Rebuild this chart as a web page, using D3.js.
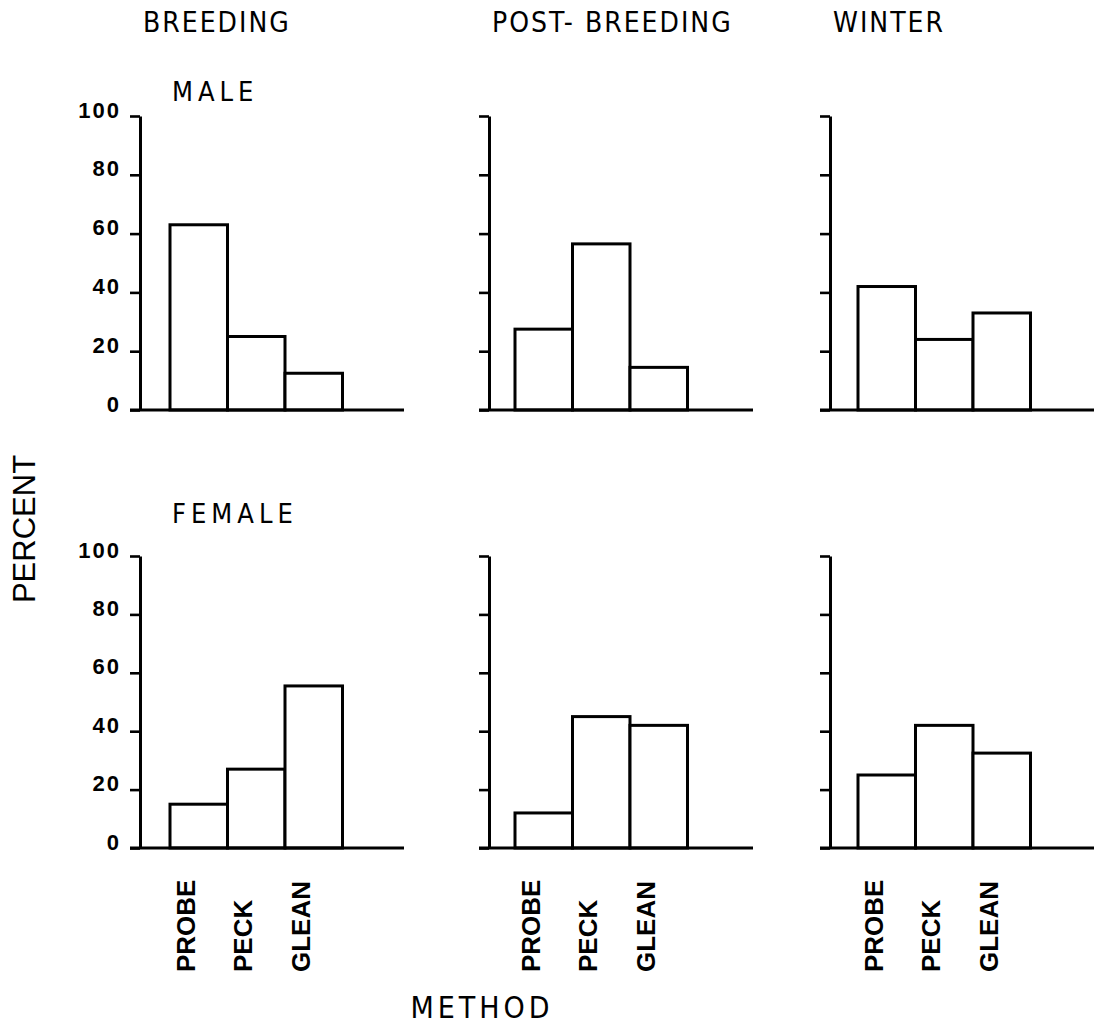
<!DOCTYPE html>
<html>
<head>
<meta charset="utf-8">
<script src="https://cdn.jsdelivr.net/npm/d3@7"></script>
<style>
  body { margin: 0; background: #fff; }
  svg { display: block; }
  .tick text { font-family: "Liberation Sans", Arial, sans-serif; font-weight: bold; }
</style>
</head>
<body>
<div id="chart"></div>
<script>
var seasons = ["BREEDING", "POST- BREEDING", "WINTER"];
var sexes = ["MALE", "FEMALE"];
var methods = ["PROBE", "PECK", "GLEAN"];
var maleValues = [
  [63, 25, 12.5],
  [27.5, 56.5, 14.5],
  [42, 24, 33]
];
var femaleValues = [
  [15, 27, 55.5],
  [12, 45, 42],
  [25, 42, 32.5]
];
var yTicks = [0, 20, 40, 60, 80, 100];

var width = 1109, height = 1025;

// panel layout: y axis position per column, top/bottom pixel per row
var colX = [140, 489, 830],
    barOffset = [30, 26, 28],
    bandW = 57.5,
    rowY = [{top: 116, base: 410}, {top: 556, base: 848}],
    sexY = [101, 523];

var svg = d3.select("#chart")
  .append("svg")
  .attr("width", width)
  .attr("height", height);

var narrow = "'Liberation Sans Narrow', 'DejaVu Sans Condensed', sans-serif";

// season titles
svg.selectAll(".season")
  .data(seasons)
  .enter().append("text")
    .attr("class", "season")
    .attr("x", function(d, i) { return colX[i] + 3; })
    .attr("y", 32)
    .style("font-family", narrow)
    .style("font-size", "28px")
    .style("letter-spacing", "2px")
    .text(function(d) { return d; });

[maleValues, femaleValues].forEach(function(rowVals, r) {
  var y = d3.scaleLinear()
      .domain([0, 100])
      .range([rowY[r].base, rowY[r].top]);

  svg.append("text")
      .attr("x", colX[0] + 32)
      .attr("y", sexY[r])
      .style("font-family", narrow)
      .style("font-size", "27px")
      .style("letter-spacing", "5px")
      .text(sexes[r]);

  rowVals.forEach(function(vals, c) {
    var x = d3.scaleBand()
        .domain(methods)
        .range([colX[c] + barOffset[c], colX[c] + barOffset[c] + bandW * methods.length])
        .padding(0);

    var g = svg.append("g");

    g.selectAll("rect")
      .data(vals)
      .enter().append("rect")
        .attr("x", function(d, i) { return x(methods[i]); })
        .attr("y", function(d) { return y(d); })
        .attr("width", x.bandwidth())
        .attr("height", function(d) { return y(0) - y(d); })
        .attr("fill", "#fff")
        .attr("stroke", "#000")
        .attr("stroke-width", 3);

    var yAxis = d3.axisLeft(y)
        .tickValues(yTicks)
        .tickSize(10)
        .tickSizeOuter(0)
        .tickPadding(9)
        .tickFormat(c == 0 ? d3.format("d") : "");

    var ax = g.append("g")
        .attr("transform", "translate(" + colX[c] + ",0)")
        .call(yAxis);
    ax.select(".domain").attr("stroke-width", 3);
    ax.selectAll(".tick line").attr("stroke-width", 2.6);
    ax.selectAll(".tick text")
        .attr("dy", "0.05em")
        .style("font-size", "22px")
        .style("letter-spacing", "2px");

    // baseline
    g.append("line")
        .attr("x1", colX[c] - 10)
        .attr("x2", colX[c] + 264)
        .attr("y1", y(0))
        .attr("y2", y(0))
        .attr("stroke", "#000")
        .attr("stroke-width", 3);

    // method labels under the bottom row
    if (r == 1) {
      g.selectAll(".method")
        .data(methods)
        .enter().append("text")
          .attr("class", "method")
          .attr("transform", function(d) {
            return "translate(" + (x(d) + x.bandwidth() / 2 - 4) + ",972) rotate(-90)";
          })
          .style("font-family", "'Liberation Sans', Arial, sans-serif")
          .style("font-weight", "bold")
          .style("font-size", "26px")
          .text(function(d) { return d; });
    }
  });
});

// axis titles
svg.append("text")
    .attr("transform", "translate(35,529) rotate(-90)")
    .attr("text-anchor", "middle")
    .style("font-family", "'Liberation Sans', Arial, sans-serif")
    .style("font-size", "31px")
    .text("PERCENT");

svg.append("text")
    .attr("x", 482)
    .attr("y", 1018)
    .attr("text-anchor", "middle")
    .style("font-family", narrow)
    .style("font-size", "30px")
    .style("letter-spacing", "4px")
    .text("METHOD");
</script>
</body>
</html>
